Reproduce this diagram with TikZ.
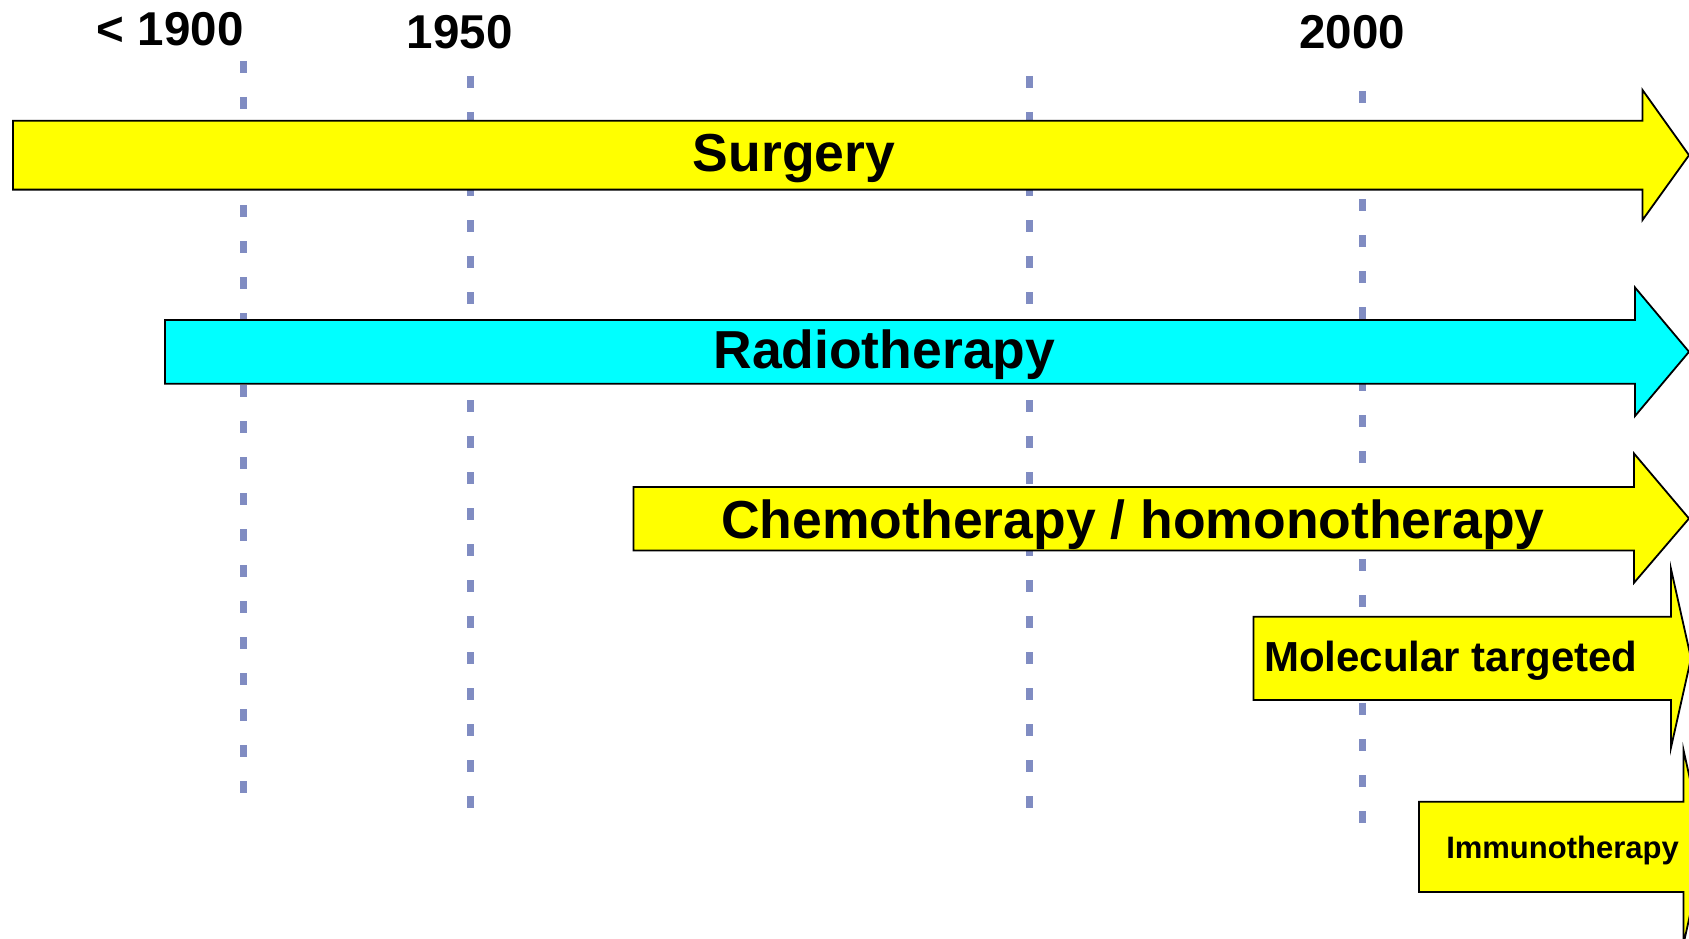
\documentclass[tikz,border=0pt]{standalone}
\usepackage{fontspec}
\setmainfont{Liberation Sans}
\definecolor{dashblue}{RGB}{128,140,194}
\definecolor{baryellow}{RGB}{255,255,0}
\definecolor{barcyan}{RGB}{0,255,255}
\tikzset{
  yearline/.style={draw=dashblue, line width=7pt, line cap=butt, dash pattern=on 12pt off 24pt},
  bararrow/.style={draw=black, line width=1.8pt, line join=miter},
  yearlabel/.style={anchor=base, inner sep=0pt, font=\fontsize{47.5}{50}\selectfont\bfseries},
  bigtext/.style={anchor=base, inner sep=0pt, font=\fontsize{53.5}{56}\selectfont\bfseries},
  midtext/.style={anchor=base, inner sep=0pt, font=\fontsize{42}{44}\selectfont\bfseries},
  smalltext/.style={anchor=base, inner sep=0pt, font=\fontsize{31}{33}\selectfont\bfseries}
}
\begin{document}
\begin{tikzpicture}[x=1pt,y=-1pt]
\useasboundingbox (0,0) rectangle (1689,939);
\clip (0,0) rectangle (1689,939);
\fill[white] (0,0) rectangle (1689,939);
% year labels
\node[yearlabel] (y1900) at (170.3,45.7) {< 1900};
\node[yearlabel] (y1950) at (459.7,48.3) {1950};
\node[yearlabel] (y2000) at (1352,49) {2000};
% dashed year lines
\draw[yearline] (243,61) -- (243,793);
\draw[yearline] (470.5,76) -- (470.5,808);
\draw[yearline] (1029,76) -- (1029,808);
\draw[yearline] (1362.3,91) -- (1362.3,823);
% Surgery
\path[bararrow, fill=baryellow] (13,120.7) -- (1642.5,120.7) -- (1642.5,90) -- (1689,155.2) -- (1642.5,220) -- (1642.5,189.6) -- (13,189.6) -- cycle;
\node[bigtext] (surgery) at (794,171.7) {Surgery};
% Radiotherapy
\path[bararrow, fill=barcyan] (165,320) -- (1635,320) -- (1635,287.5) -- (1689,351.8) -- (1635,416) -- (1635,383.7) -- (165,383.7) -- cycle;
\node[bigtext] (radio) at (884.3,368.3) {Radiotherapy};
% Chemotherapy
\path[bararrow, fill=baryellow] (633.4,487) -- (1634,487) -- (1634,453.5) -- (1689,518.5) -- (1634,582.8) -- (1634,550.5) -- (633.4,550.5) -- cycle;
\node[bigtext] (chemo) at (1133,538.3) {Chemotherapy / homonotherapy};
% Molecular targeted
\path[bararrow, fill=baryellow] (1253.5,616.7) -- (1671,616.7) -- (1671,569) -- (1691,658.3) -- (1671,747.5) -- (1671,700) -- (1253.5,700) -- cycle;
\node[midtext] (molec) at (1450.8,671.7) {Molecular targeted};
% Immunotherapy
\path[bararrow, fill=baryellow] (1419,801.7) -- (1683.5,801.7) -- (1683.5,750) -- (1705,847) -- (1683.5,944) -- (1683.5,892) -- (1419,892) -- cycle;
\node[smalltext] (immuno) at (1562.5,858.3) {Immunotherapy};
\end{tikzpicture}
\end{document}
